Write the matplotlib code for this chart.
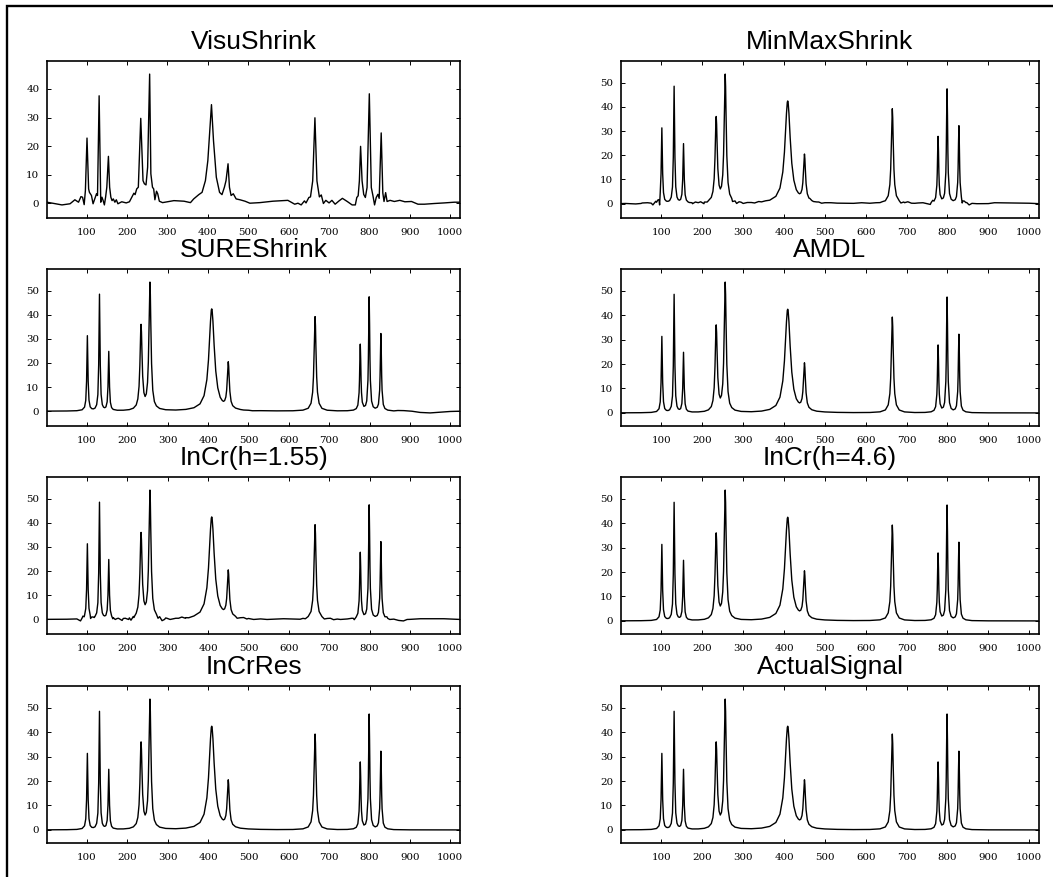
import matplotlib
matplotlib.use("Agg")
import matplotlib.pyplot as plt
from matplotlib.patches import Rectangle
from matplotlib.ticker import MultipleLocator

plt.rcParams['font.family'] = ['DejaVu Serif']

clean_x = [1, 50, 75, 88, 94, 97, 99, 100, 101, 102, 103, 105, 108, 112, 116, 120, 124, 127,
           129, 130, 131, 132, 133, 135, 138, 141, 144, 147, 150, 152, 153, 154, 155, 156, 158,
           161, 165, 175, 190, 205, 215, 222, 226, 229, 231, 232, 233, 234, 235, 236, 238, 241,
           244, 247, 250, 252, 254, 255, 256, 257, 258, 260, 263, 267, 272, 280, 295, 320, 345,
           365, 380, 390, 397, 401, 404, 406, 408, 409, 410, 412, 415, 419, 424, 430, 435, 438,
           441, 444, 446, 448, 449, 450, 451, 452, 454, 457, 461, 468, 480, 500, 530, 570, 610,
           635, 648, 655, 659, 661, 663, 664, 665, 666, 667, 669, 671, 675, 682, 695, 720, 745,
           760, 767, 771, 774, 775, 776, 777, 778, 779, 780, 782, 786, 790, 793, 796, 797, 798,
           799, 800, 801, 802, 805, 809, 814, 819, 822, 825, 826, 827, 828, 829, 830, 831, 834,
           838, 845, 860, 900, 1024]
clean_y = [0.05, 0.1, 0.22, 0.6, 1.7, 4.5, 12.4, 22.7, 31.3, 22.7, 12.4, 4.6, 1.8, 1.06, 0.98, 1.3, 2.7, 6.9,
           19.2, 35.1, 48.5, 35.1, 19.2, 7.0, 2.75, 1.7, 1.44, 1.8, 3.9, 10.1, 18.0, 24.8, 17.9, 10.0, 3.7,
           1.5, 0.75, 0.41, 0.42, 0.67, 1.27, 2.6, 5.1, 10.3, 18.9, 25.8, 32.6, 36.0, 32.8, 26.0, 14.5, 7.7,
           6.1, 7.2, 11.9, 20.3, 37.8, 48.3, 53.5, 48.3, 37.6, 19.8, 8.7, 4.0, 2.2, 1.15, 0.62, 0.5, 0.76,
           1.45, 3.05, 6.45, 13.1, 21.3, 30.6, 37.3, 41.9, 42.4, 41.9, 37.3, 27.3, 16.7, 9.7, 5.8, 4.46, 4.1,
           4.4, 5.9, 8.7, 14.9, 18.7, 20.5, 18.6, 14.6, 8.2, 4.1, 2.3, 1.3, 0.72, 0.41, 0.23, 0.15, 0.19,
           0.45, 1.23, 3.3, 7.9, 14.2, 27.2, 35.4, 39.2, 35.4, 27.2, 14.2, 7.9, 3.3, 1.2, 0.42, 0.17, 0.21,
           0.47, 1.08, 2.55, 7.65, 12.7, 21.5, 27.8, 21.6, 12.8, 7.8, 3.75, 2.0, 2.4, 4.3, 12.9, 21.5, 36.5,
           47.4, 36.5, 21.5, 12.85, 4.2, 1.85, 1.25, 1.66, 2.95, 8.75, 14.6, 24.8, 32.2, 24.8, 14.6, 8.7, 2.8,
           1.13, 0.46, 0.14, 0.04, 0.01]

# VisuShrink estimate
visu_x = [2, 39, 59, 71, 80, 86, 90, 94, 97, 101, 105, 107, 112, 116, 120, 124.5, 127, 131, 135, 138,
          141, 144, 147, 150, 154, 157, 160, 163, 166, 170, 173.5, 177.5, 187, 198, 206, 212, 217, 220,
          224, 228, 234, 239.6, 243, 247, 251, 256, 259, 263, 266, 269, 273, 276, 280, 288, 316, 341,
          357, 365, 377.6, 385.7, 394, 400, 409, 414, 421, 429, 435, 441, 445, 450, 453.5, 457.5, 463,
          470, 479.6, 492, 504, 528.6, 561, 598, 615, 623, 631, 639, 643, 650, 654, 659.5, 665, 670,
          676, 680.7, 686, 692, 700, 707, 715, 724.6, 733, 745, 757, 765, 768.6, 772, 775, 778, 781.7,
          785.7, 789.8, 794, 799.6, 804.5, 808.6, 812.6, 816.7, 820.8, 824, 829, 833, 836, 840, 843.6,
          851, 861.5, 875, 887.6, 904, 920, 936, 961, 985, 1010, 1024]
visu_y = [0.35, -0.6, -0.2, 1.2, 0.35, 2.3, 2.1, -0.5, 4.4, 22.8, 5.0, 3.8, 2.7, -0.2, 1.5, 3.3, 2.7, 37.6, 0.35, 2.1,
          0.9, -0.6, 2.1, 5.6, 16.4, 5.6, 2.1, 0.9, 1.5, 0.35, 1.2, -0.2, 0.5, 0.1, 0.5, 2.1, 3.5, 3.0,
          5.0, 5.6, 29.7, 7.9, 6.8, 6.4, 12.6, 45.2, 10.3, 5.6, 5.0, 1.2, 4.2, 3.3, 0.7, 0.2, 0.9, 0.7,
          0.2, 1.5, 3.0, 3.8, 7.9, 14.9, 34.5, 21.9, 9.1, 3.8, 3.0, 5.6, 7.9, 13.8, 5.6, 2.7, 3.3,
          1.5, 1.2, 0.7, 0.0, 0.2, 0.7, 1.0, -0.35, 0.0, -0.6, 0.8, 0.1, 2.0, 2.2, 7.8, 29.9, 7.8,
          2.2, 2.9, -0.1, 1.0, 0.1, 1.0, -0.35, 0.8, 1.7, 0.6, -0.6, -0.6, 2.0, 2.6, 7.8, 19.9, 7.8,
          3.1, 2.0, 5.5, 38.3, 5.5, 2.6, -0.6, 2.0, 3.1, 1.7, 24.6, 3.6, 0.6, 3.7, 0.6,
          1.0, 0.6, 1.0, 0.5, 0.6, -0.35, -0.35, -0.1, 0.1, 0.35, 0.35]

# extra wiggle points on top of the clean signal
minmax_x = [12, 37, 53, 66, 79, 86, 91, 95.5, 168, 176, 183, 196, 204, 212, 274, 284, 290, 300, 310,
            328, 338, 355, 463, 472, 485, 492, 515, 550, 590, 625, 640, 686, 693, 703, 712, 728, 740,
            758, 764, 769, 836, 841, 847, 853, 872, 915, 950, 1000]
minmax_y = [0.1, -0.1, 0.3, 0.4, -0.5, 1.0, 1.5, -0.5, 0.5, 0.0, 0.7, 0.8, 0.0, 0.7, 0.9, 0.1, 0.8, 0.1, 0.5,
            0.3, 0.9, 1.2, 2.2, 0.9, 0.7, 0.2, 0.4, 0.2, 0.4, 0.4, 0.8, 0.3, 0.7, 0.8, 0.2, 0.3, 0.4,
            -0.3, 1.4, 1.8, 0.3, 1.1, 0.5, -0.5, 0.0, 0.4, 0.3, 0.2]

sure_x = [488, 510, 870, 885, 905, 925, 950, 975, 1000]
sure_y = [0.5, 0.2, 0.3, 0.25, 0.0, -0.5, -0.7, -0.4, -0.1]

incr155_x = [71, 84, 90, 93, 109, 118, 164, 170, 178, 187, 195, 203, 209, 216, 276, 286, 292, 298, 306,
             315, 327, 335, 344, 352, 472, 488, 496, 513, 546, 587, 628, 641, 688, 703, 711, 728, 756,
             762, 843, 850, 872, 884, 893, 926, 959, 984]
incr155_y = [0.2, -0.6, 1.4, 1.1, 0.4, 0.8, 0.3, 0.0, 0.5, -0.4, 0.5, 0.0, -0.3, 0.8, 0.5, -0.5, 0.0, 0.5, 0.0,
             0.3, 0.5, 1.0, 0.5, 0.7, 0.5, 0.8, 0.2, 0.0, 0.0, 0.3, 0.1, 0.3, 0.2, 0.5, -0.1, 0.0, 0.5,
             -0.1, 1.1, 0.0, -0.4, -0.6, 0.0, 0.3, 0.3, 0.3]

titles = ['VisuShrink', 'MinMaxShrink', 'SUREShrink', 'AMDL',
          'InCr(h=1.55)', 'InCr(h=4.6)', 'InCrRes', 'ActualSignal']
xticks = [100, 200, 300, 400, 500, 600, 700, 800, 900, 1000]


def merge(bx, by, ex, ey):
    pts = sorted(zip(bx + ex, by + ey))
    return [p[0] for p in pts], [p[1] for p in pts]


curves = [
    (visu_x, visu_y),
    merge(clean_x, clean_y, minmax_x, minmax_y),
    merge(clean_x, clean_y, sure_x, sure_y),
    (clean_x, clean_y),
    merge(clean_x, clean_y, incr155_x, incr155_y),
    (clean_x, clean_y),
    (clean_x, clean_y),
    (clean_x, clean_y),
]

W, H = 1053, 877
fig = plt.figure(figsize=(W / 100, H / 100), dpi=100)

col_left = [47, 621]
col_width = [413, 418]
row_top = [61, 269, 477, 686]
ax_h = 157

for i, (title, (xs, ys)) in enumerate(zip(titles, curves)):
    r, c = i // 2, i % 2
    ax = fig.add_axes([col_left[c] / W, 1 - (row_top[r] + ax_h) / H,
                       col_width[c] / W, ax_h / H])
    ax.plot(xs, ys, color='black', lw=1.0)
    ax.set_xlim(xs[0], xs[-1])
    ax.margins(x=0, y=0.1)
    ax.set_xticks(xticks)
    ax.yaxis.set_major_locator(MultipleLocator(10))
    ax.tick_params(direction='in', top=True, right=True, length=3, width=0.7,
                   labelsize=7.4)
    ax.tick_params(axis='x', pad=7)
    ax.tick_params(axis='y', pad=5.5)
    for s in ax.spines.values():
        s.set_linewidth(1.2)
    ax.set_title(title, family='Liberation Sans', fontsize=19, pad=8.5)

fig.add_artist(Rectangle((7 / W, -0.05), 1.2, 1 - 6 / H + 0.05,
                         transform=fig.transFigure, fill=False,
                         lw=1.7, ec='black'))

fig.savefig('out.png', dpi=100)
